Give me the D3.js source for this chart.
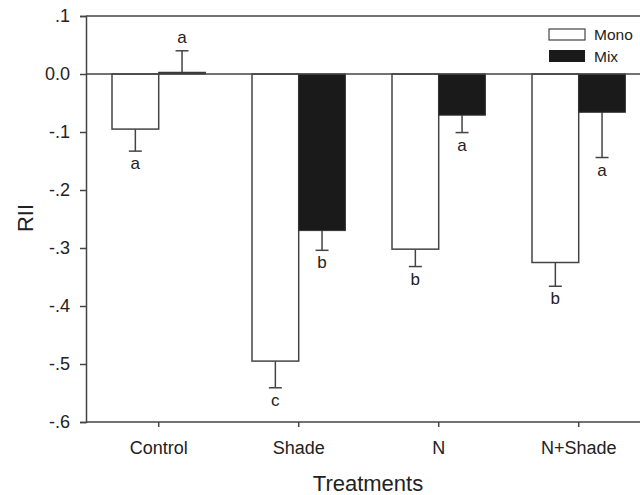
<!DOCTYPE html>
<html>
<head>
<meta charset="utf-8">
<script src="https://cdn.jsdelivr.net/npm/d3@7"></script>
<style>
  body { margin: 0; background: #fff; }
  text { font-family: "Liberation Sans", Arial, sans-serif; fill: #222; }
</style>
</head>
<body>
<div id="canvas"></div>
<script>
"use strict"

// data
let treatments = ["Control", "Shade", "N", "N+Shade"];
let monoValues = [-0.095, -0.495, -0.302, -0.325];
let monoErrors = [0.038, 0.046, 0.030, 0.041];
let monoLetters = ["a", "c", "b", "b"];
let mixValues = [0.003, -0.270, -0.071, -0.066];
let mixErrors = [0.037, 0.034, 0.030, 0.078];
let mixLetters = ["a", "b", "a", "a"];
let yTicks = [0.1, 0, -0.1, -0.2, -0.3, -0.4, -0.5, -0.6];
let yTickLabels = [".1", "0.0", "-.1", "-.2", "-.3", "-.4", "-.5", "-.6"];

let drawing = d3.select("#canvas")
    .append("svg")
    .attr("width", 640)
    .attr("height", 495);

let plotLeft = 86, plotTop = 16, plotBottom = 422, plotRight = 640;
let axisColor = "#444";

let y = d3.scaleLinear().domain([-0.6, 0.1]).range([plotBottom, plotTop]);
let x = d3.scaleBand().domain(treatments).range([88.7, 648.7]);
let bw = 46.7;

// top frame line
drawing.append("line")
    .attr("x1", plotLeft).attr("x2", plotRight)
    .attr("y1", y(0.1)).attr("y2", y(0.1))
    .attr("stroke", axisColor).attr("stroke-width", 1.5);

// y axis
let yAxis = d3.axisLeft(y)
    .tickValues(yTicks)
    .tickFormat((d, i) => yTickLabels[i])
    .tickSize(6)
    .tickPadding(10);
let yg = drawing.append("g")
    .attr("transform", "translate(" + plotLeft + ",0)")
    .call(yAxis);
yg.select(".domain").attr("stroke", axisColor).attr("stroke-width", 1.5);
yg.selectAll(".tick line").attr("stroke", axisColor).attr("stroke-width", 1.5);
yg.selectAll(".tick text").style("font-size", "18px").attr("fill", "#222");

// x axis
let xAxis = d3.axisBottom(x).tickSize(5).tickPadding(14);
let xg = drawing.append("g")
    .attr("transform", "translate(0," + plotBottom + ")")
    .call(xAxis);
xg.select(".domain").remove();
xg.append("line")
    .attr("x1", plotLeft).attr("x2", plotRight)
    .attr("y1", 0).attr("y2", 0)
    .attr("stroke", axisColor).attr("stroke-width", 1.5);
xg.selectAll(".tick line").attr("stroke", axisColor).attr("stroke-width", 1.5);
xg.selectAll(".tick text").style("font-size", "18px").attr("fill", "#222");

function center(d) { return x(d) + x.bandwidth() / 2; }
function errEnd(v, e) { return v > 0 ? v + e : v - e; }

// error bars (drawn before the bars)
function errorBars(values, errors, offset) {
    let g = drawing.append("g");
    treatments.forEach(function (t, i) {
        let cx = center(t) + offset;
        let end = errEnd(values[i], errors[i]);
        g.append("line")
            .attr("x1", cx).attr("x2", cx)
            .attr("y1", y(values[i])).attr("y2", y(end))
            .attr("stroke", axisColor).attr("stroke-width", 1.5);
        g.append("line")
            .attr("x1", cx - 6.5).attr("x2", cx + 6.5)
            .attr("y1", y(end)).attr("y2", y(end))
            .attr("stroke", axisColor).attr("stroke-width", 1.5);
    });
}
errorBars(monoValues, monoErrors, -bw / 2);
errorBars(mixValues, mixErrors, bw / 2);

// Mono bars
let monoBars = drawing.append("g").selectAll("rect")
    .data(treatments)
    .join("rect")
    .attr("x", d => center(d) - bw)
    .attr("y", (d, i) => y(Math.max(0, monoValues[i])))
    .attr("width", bw)
    .attr("height", (d, i) => Math.abs(y(monoValues[i]) - y(0)))
    .attr("fill", "white")
    .attr("stroke", axisColor)
    .attr("stroke-width", 1.5);

// Mix bars
let mixBars = drawing.append("g").selectAll("rect")
    .data(treatments)
    .join("rect")
    .attr("x", d => center(d))
    .attr("y", (d, i) => y(Math.max(0, mixValues[i])))
    .attr("width", bw)
    .attr("height", (d, i) => Math.max(1.5, Math.abs(y(mixValues[i]) - y(0))))
    .attr("fill", "#1a1a1a")
    .attr("stroke", "#333")
    .attr("stroke-width", 1);

// zero line
drawing.append("line")
    .attr("x1", plotLeft).attr("x2", plotRight)
    .attr("y1", y(0)).attr("y2", y(0))
    .attr("stroke", axisColor).attr("stroke-width", 1.5);

// significance letters
function letters(values, errors, labels, offset) {
    drawing.append("g").selectAll("text")
        .data(treatments)
        .join("text")
        .attr("x", d => center(d) + offset)
        .attr("y", (d, i) => {
            let end = y(errEnd(values[i], errors[i]));
            return values[i] > 0 ? end - 8 : end + 18;
        })
        .attr("text-anchor", "middle")
        .style("font-size", "17px")
        .text((d, i) => labels[i]);
}
letters(monoValues, monoErrors, monoLetters, -bw / 2);
letters(mixValues, mixErrors, mixLetters, bw / 2);

// legend
let legend = drawing.append("g");
legend.append("rect")
    .attr("x", 549).attr("y", 29)
    .attr("width", 36).attr("height", 11)
    .attr("fill", "white").attr("stroke", axisColor).attr("stroke-width", 1.2);
legend.append("text")
    .attr("x", 594).attr("y", 40)
    .style("font-size", "15.5px")
    .text("Mono");
legend.append("rect")
    .attr("x", 549).attr("y", 50)
    .attr("width", 36).attr("height", 12)
    .attr("fill", "#1a1a1a");
legend.append("text")
    .attr("x", 594).attr("y", 61.5)
    .style("font-size", "15.5px")
    .text("Mix");

// axis titles
drawing.append("text")
    .attr("x", 368).attr("y", 491)
    .attr("text-anchor", "middle")
    .style("font-size", "22px")
    .text("Treatments");

drawing.append("text")
    .attr("transform", "translate(33,218) rotate(-90)")
    .attr("text-anchor", "middle")
    .style("font-size", "22px")
    .text("RII");
</script>
</body>
</html>
